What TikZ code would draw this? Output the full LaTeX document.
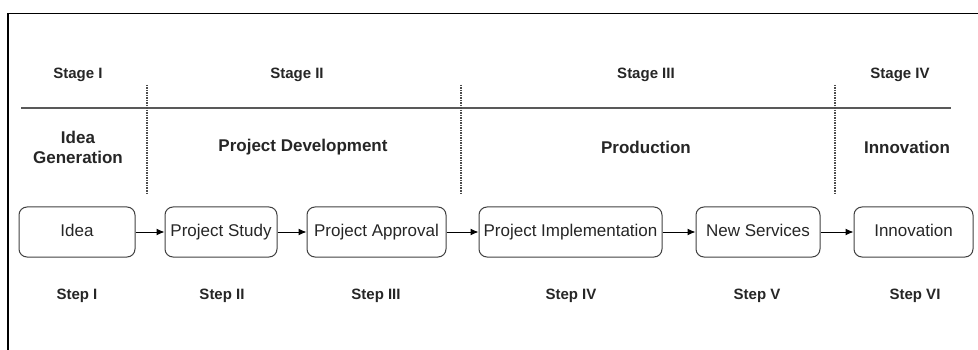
\documentclass[tikz,border=0pt]{standalone}
\usepackage{fontspec}
\setmainfont{Liberation Sans}
\usetikzlibrary{arrows.meta}
\begin{document}
\begin{tikzpicture}[x=1pt,y=-1pt,
  stagelbl/.style={font=\bfseries\fontsize{15}{18}\selectfont, text=black!85},
  phaselbl/.style={font=\bfseries\fontsize{17}{20}\selectfont, text=black!85, align=center},
  steplbl/.style={font=\bfseries\fontsize{15}{18}\selectfont, text=black!85},
  stepbox/.style={draw=black!75, line width=1pt, rounded corners=8pt,
    minimum height=50pt, inner sep=0pt, text height=12.5pt, text depth=3.5pt,
    font=\fontsize{17}{20}\selectfont, text=black!85},
  flow/.style={-{Latex[length=8pt,width=7pt]}, line width=1pt, black},
  divider/.style={draw=black!70, line width=1.2pt, dash pattern=on 1.5pt off 1pt},
  rule/.style={draw=black!65, line width=1.6pt}]
\useasboundingbox (0,0) rectangle (978,350);

% outer frame
\draw[line width=1.5pt] (8,350) -- (8,13.5) -- (978,13.5);

% header rule and section dividers
\draw[rule] (21,108) -- (951,108);
\draw[divider] (147,85) -- (147,193);
\draw[divider] (461,85) -- (461,193);
\draw[divider] (835,85) -- (835,193);

% stage headings
\node[stagelbl] (s1) at (78,75) {Stage I};
\node[stagelbl] (s2) at (297,75) {Stage II};
\node[stagelbl] (s3) at (646,75) {Stage III};
\node[stagelbl] (s4) at (900,75) {Stage IV};

% phase names
\node[phaselbl] (p1) at (78,147) {Idea\\Generation};
\node[phaselbl] (p2) at (303,147) {Project Development};
\node[phaselbl] (p3) at (646,147) {Production};
\node[phaselbl] (p4) at (907,147) {Innovation};

% process boxes
\node[stepbox, minimum width=116pt] (b1) at (77,232) {Idea};
\node[stepbox, minimum width=112pt] (b2) at (221,232) {Project Study};
\node[stepbox, minimum width=139pt] (b3) at (376.5,232) {Project Approval};
\node[stepbox, minimum width=183pt] (b4) at (570.5,232) {Project Implementation};
\node[stepbox, minimum width=124pt] (b5) at (758,232) {New Services};
\node[stepbox, minimum width=119pt] (b6) at (913.5,232) {Innovation};

\draw[flow] (b1) -- (b2);
\draw[flow] (b2) -- (b3);
\draw[flow] (b3) -- (b4);
\draw[flow] (b4) -- (b5);
\draw[flow] (b5) -- (b6);

% step numbers
\node[steplbl] (t1) at (77,296) {Step I};
\node[steplbl] (t2) at (222,296) {Step II};
\node[steplbl] (t3) at (376,296) {Step III};
\node[steplbl] (t4) at (571,296) {Step IV};
\node[steplbl] (t5) at (757,296) {Step V};
\node[steplbl] (t6) at (915,296) {Step VI};
\end{tikzpicture}
\end{document}
